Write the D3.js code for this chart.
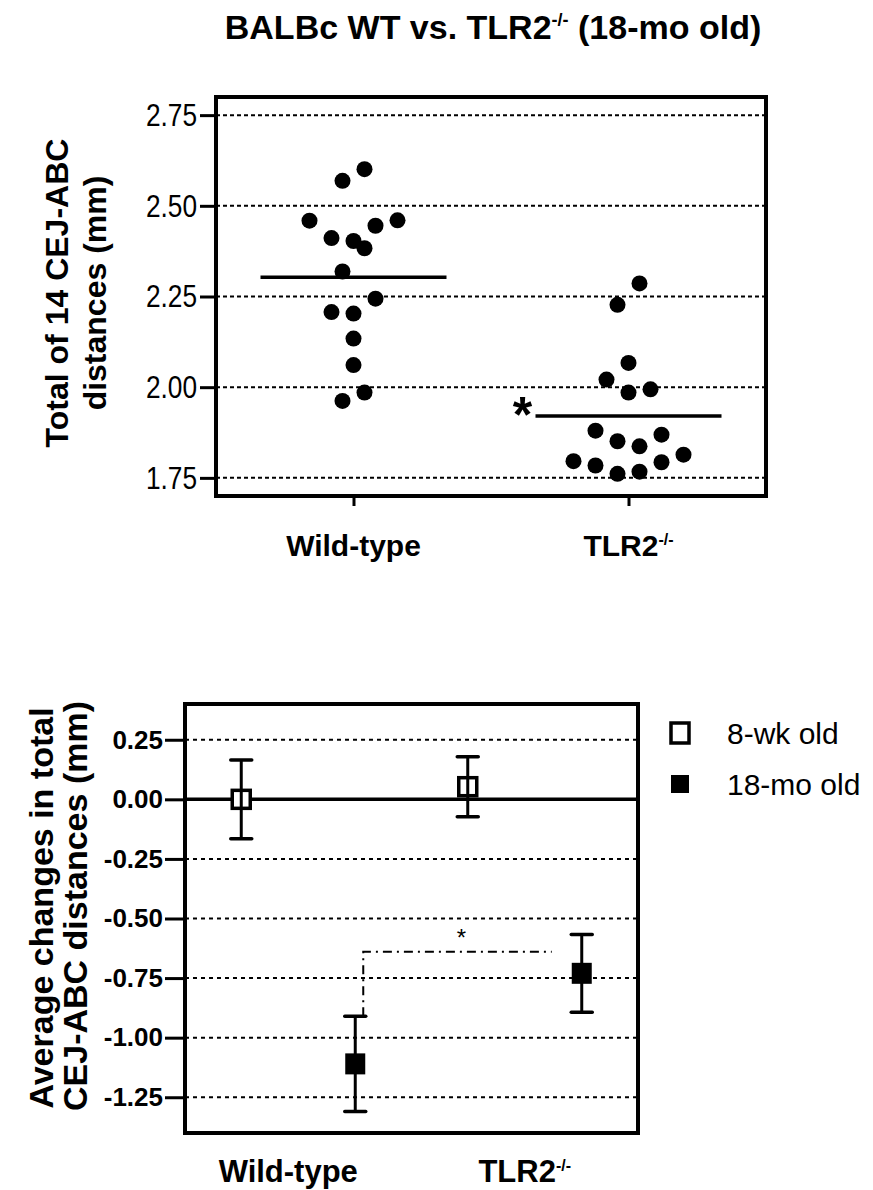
<!DOCTYPE html>
<html lang="en">
<head>
<meta charset="utf-8">
<title>BALBc WT vs. TLR2-/- (18-mo old)</title>
<script src="https://cdn.jsdelivr.net/npm/d3@7"></script>
<style>
  body { margin: 0; background: #fff; }
  svg { display: block; font-family: "Liberation Sans", Arial, sans-serif; }
</style>
</head>
<body>
<div id="chart"></div>
<script>

// top panel: individual mice
const groups = ["Wild-type", "TLR2"];
const groupSup = ["", "-/-"];
const wtValues = [2.601, 2.569, 2.459, 2.460, 2.445, 2.411, 2.403, 2.383, 2.319, 2.244, 2.207, 2.203, 2.134, 2.061, 1.985, 1.962];
const wtSlots  = [1, -1, -4, 4, 2, -2, 0, 1, -1, 2, -2, 0, 0, 0, 1, -1];
const koValues = [2.286, 2.227, 2.067, 2.021, 1.985, 1.994, 1.880, 1.869, 1.851, 1.837, 1.814, 1.796, 1.784, 1.793, 1.761, 1.767];
const koSlots  = [1, -1, 0, -2, 0, 2, -3, 3, -1, 1, 5, -5, -3, 3, -1, 1];
const topTicks = [1.75, 2.00, 2.25, 2.50, 2.75];

// bottom panel: average changes
const ages = ["8-wk old", "18-mo old"];
const meanWk = [0.00, 0.053];
const errWk  = [0.165, 0.126];
const meanMo = [-1.11, -0.73];
const errMo  = [0.20, 0.163];
const sigLevel = -0.64;
const bottomTicks = [0.25, 0.00, -0.25, -0.50, -0.75, -1.00, -1.25];

const FONT = '"Liberation Sans", Arial, sans-serif';
// plain hyphen for negatives, like the figure
const fmt = d3.formatLocale({decimal: ".", thousands: ",", grouping: [3], currency: ["", ""], minus: "-"}).format(".2f");

const svg = d3.select("#chart").append("svg")
    .attr("width", 873)
    .attr("height", 1190);

// squeeze text horizontally (figure uses a narrow face)
function narrow(sel, k) {
  sel.each(function() {
    const w = this.getComputedTextLength();
    d3.select(this).attr("textLength", w * k).attr("lengthAdjust", "spacingAndGlyphs");
  });
}

function labelWithSup(sel, main, sup, supSize, rise) {
  sel.append("tspan").text(main);
  if (sup) {
    sel.append("tspan").attr("font-size", supSize).attr("dy", -rise).text(sup);
  }
}

// ---------- title ----------
const title = svg.append("text")
    .attr("x", 493)
    .attr("y", 39)
    .attr("text-anchor", "middle")
    .attr("font-size", 34)
    .attr("font-weight", "bold");
title.append("tspan").text("BALBc WT vs. TLR2");
title.append("tspan").attr("font-size", 18).attr("dy", -13).text("-/-");
title.append("tspan").attr("dy", 13).text(" (18-mo old)");

// ---------- top panel ----------
const tp = {left: 216, right: 766, top: 97, bottom: 496};

const xTop = d3.scalePoint().domain(groups).range([tp.left, tp.right]).padding(0.5);
const yTop = d3.scaleLinear().domain([1.70, 2.80]).range([tp.bottom, tp.top]);
const slotW = 11;

const g1 = svg.append("g");

g1.selectAll(".grid1").data(topTicks).join("line")
    .attr("class", "grid1")
    .attr("x1", tp.left).attr("x2", tp.right)
    .attr("y1", d => yTop(d)).attr("y2", d => yTop(d))
    .attr("stroke", "#000")
    .attr("stroke-width", 2)
    .attr("stroke-dasharray", "4,3");

g1.append("rect")
    .attr("x", tp.left).attr("y", tp.top)
    .attr("width", tp.right - tp.left).attr("height", tp.bottom - tp.top)
    .attr("fill", "none").attr("stroke", "#000").attr("stroke-width", 4);

const yAx1 = g1.append("g")
    .attr("transform", `translate(${tp.left},0)`)
    .call(d3.axisLeft(yTop).tickValues(topTicks).tickFormat(fmt).tickSize(16).tickPadding(3))
    .attr("font-size", 32)
    .attr("font-family", FONT);
yAx1.select(".domain").remove();
yAx1.selectAll("line").attr("stroke-width", 3);
yAx1.selectAll("text").call(narrow, 0.82);

const xAx1 = g1.append("g")
    .attr("transform", `translate(0,${tp.bottom})`)
    .call(d3.axisBottom(xTop).tickSize(10).tickFormat(""));
xAx1.select(".domain").remove();
xAx1.selectAll("line").attr("stroke-width", 3);

groups.forEach((g, i) => {
  g1.append("text")
      .attr("x", xTop(g))
      .attr("y", 556)
      .attr("text-anchor", "middle")
      .attr("font-size", 30)
      .attr("font-weight", "bold")
      .call(labelWithSup, g, groupSup[i], 16, 11);
});

const dots = [
  ...wtValues.map((v, i) => ({g: groups[0], v, s: wtSlots[i]})),
  ...koValues.map((v, i) => ({g: groups[1], v, s: koSlots[i]}))
];

g1.selectAll(".dot").data(dots).join("circle")
    .attr("class", "dot")
    .attr("cx", d => xTop(d.g) + d.s * slotW)
    .attr("cy", d => yTop(d.v))
    .attr("r", 8)
    .attr("fill", "#000");

const means = [d3.mean(wtValues), d3.mean(koValues)];
const halfLine = 93;

g1.selectAll(".mean").data(groups).join("line")
    .attr("class", "mean")
    .attr("x1", d => xTop(d) - halfLine)
    .attr("x2", d => xTop(d) + halfLine)
    .attr("y1", (d, i) => yTop(means[i]))
    .attr("y2", (d, i) => yTop(means[i]))
    .attr("stroke", "#000")
    .attr("stroke-width", 3.5);

g1.append("text")
    .attr("x", xTop(groups[1]) - halfLine - 13)
    .attr("y", yTop(means[1]) + 16)
    .attr("text-anchor", "middle")
    .attr("font-size", 50)
    .attr("font-weight", "bold")
    .text("*");

const yl1 = g1.append("g")
    .attr("font-size", 32)
    .attr("font-weight", "bold")
    .attr("text-anchor", "middle");
yl1.append("text")
    .attr("transform", "translate(68,293) rotate(-90)")
    .text("Total of 14 CEJ-ABC");
yl1.append("text")
    .attr("transform", "translate(106,293) rotate(-90)")
    .text("distances (mm)");

// ---------- bottom panel ----------
const bp = {left: 185, right: 638, top: 704, bottom: 1133};

const xBot = d3.scalePoint().domain(groups).range([bp.left, bp.right]).padding(0.5);
const ageX = d3.scalePoint().domain(ages).range([-57, 57]);
const yBot = d3.scaleLinear().domain([-1.40, 0.40]).range([bp.bottom, bp.top]);

const g2 = svg.append("g");

g2.selectAll(".grid2").data(bottomTicks.filter(d => d !== 0)).join("line")
    .attr("class", "grid2")
    .attr("x1", bp.left).attr("x2", bp.right)
    .attr("y1", d => yBot(d)).attr("y2", d => yBot(d))
    .attr("stroke", "#000")
    .attr("stroke-width", 2)
    .attr("stroke-dasharray", "4,4");

g2.append("line")
    .attr("x1", bp.left).attr("x2", bp.right)
    .attr("y1", yBot(0)).attr("y2", yBot(0))
    .attr("stroke", "#000")
    .attr("stroke-width", 3.5);

g2.append("rect")
    .attr("x", bp.left).attr("y", bp.top)
    .attr("width", bp.right - bp.left).attr("height", bp.bottom - bp.top)
    .attr("fill", "none").attr("stroke", "#000").attr("stroke-width", 4);

const yAx2 = g2.append("g")
    .attr("transform", `translate(${bp.left},0)`)
    .call(d3.axisLeft(yBot).tickValues(bottomTicks).tickFormat(fmt).tickSize(20).tickPadding(2))
    .attr("font-size", 26)
    .attr("font-weight", "bold")
    .attr("font-family", FONT);
yAx2.select(".domain").remove();
yAx2.selectAll("line").attr("stroke-width", 3);

groups.forEach((g, i) => {
  g2.append("text")
      .attr("x", xBot(g) - (i ? 0 : 10))
      .attr("y", 1182)
      .attr("text-anchor", "middle")
      .attr("font-size", 31)
      .attr("font-weight", "bold")
      .call(labelWithSup, g, groupSup[i], 16, 11);
});

const rows = [];
groups.forEach((g, i) => {
  rows.push({g, a: ages[0], m: meanWk[i], e: errWk[i]});
  rows.push({g, a: ages[1], m: meanMo[i], e: errMo[i]});
});
const px = d => xBot(d.g) + ageX(d.a);
const cap = 10.5;

// significance bracket between the 18-mo groups
const wtMo = rows[1], koMo = rows[3];
g2.append("path")
    .attr("d", `M${px(wtMo) + 8},${yBot(wtMo.m + wtMo.e)} V${yBot(sigLevel)} H${px(koMo) - 30}`)
    .attr("fill", "none")
    .attr("stroke", "#000")
    .attr("stroke-width", 2)
    .attr("stroke-dasharray", "9,5,2,5");

g2.append("text")
    .attr("x", (px(wtMo) + px(koMo)) / 2 - 7)
    .attr("y", yBot(sigLevel) - 6)
    .attr("text-anchor", "middle")
    .attr("font-size", 24)
    .text("*");

const bars = g2.selectAll(".bar").data(rows).join("g").attr("class", "bar");

bars.append("rect")
    .attr("x", d => px(d) - (d.a === ages[0] ? 9 : 10))
    .attr("y", d => yBot(d.m) - (d.a === ages[0] ? 9 : 10.5))
    .attr("width", d => d.a === ages[0] ? 18 : 20)
    .attr("height", d => d.a === ages[0] ? 18 : 21)
    .attr("fill", d => d.a === ages[0] ? "#fff" : "#000")
    .attr("stroke", "#000")
    .attr("stroke-width", d => d.a === ages[0] ? 3.5 : 0);

bars.append("line")
    .attr("x1", px).attr("x2", px)
    .attr("y1", d => yBot(d.m + d.e))
    .attr("y2", d => yBot(d.m - d.e))
    .attr("stroke", "#000").attr("stroke-width", 3);

bars.selectAll(".cap").data(d => [d.m + d.e, d.m - d.e].map(v => ({v, x: px(d)}))).join("line")
    .attr("class", "cap")
    .attr("x1", d => d.x - cap).attr("x2", d => d.x + cap)
    .attr("y1", d => yBot(d.v)).attr("y2", d => yBot(d.v))
    .attr("stroke", "#000").attr("stroke-width", 3.5)
    .attr("stroke-linecap", "round");

const yl2 = g2.append("g")
    .attr("font-size", 34)
    .attr("font-weight", "bold")
    .attr("text-anchor", "middle");
yl2.append("text")
    .attr("transform", "translate(53,908) rotate(-90)")
    .text("Average changes in total");
yl2.append("text")
    .attr("transform", "translate(87,906) rotate(-90)")
    .text("CEJ-ABC distances (mm)");

// legend
const legend = g2.selectAll(".legend").data(ages).join("g")
    .attr("class", "legend")
    .attr("transform", (d, i) => `translate(680,${733 + i * 51})`);

legend.append("rect")
    .attr("x", -9)
    .attr("y", (d, i) => i ? -9 : -10)
    .attr("width", 18)
    .attr("height", (d, i) => i ? 18 : 20)
    .attr("fill", (d, i) => i ? "#000" : "#fff")
    .attr("stroke", "#000")
    .attr("stroke-width", (d, i) => i ? 0 : 3.5);

legend.append("text")
    .attr("x", 47)
    .attr("y", 11)
    .attr("font-size", 30)
    .text(d => d);

</script>
</body>
</html>
